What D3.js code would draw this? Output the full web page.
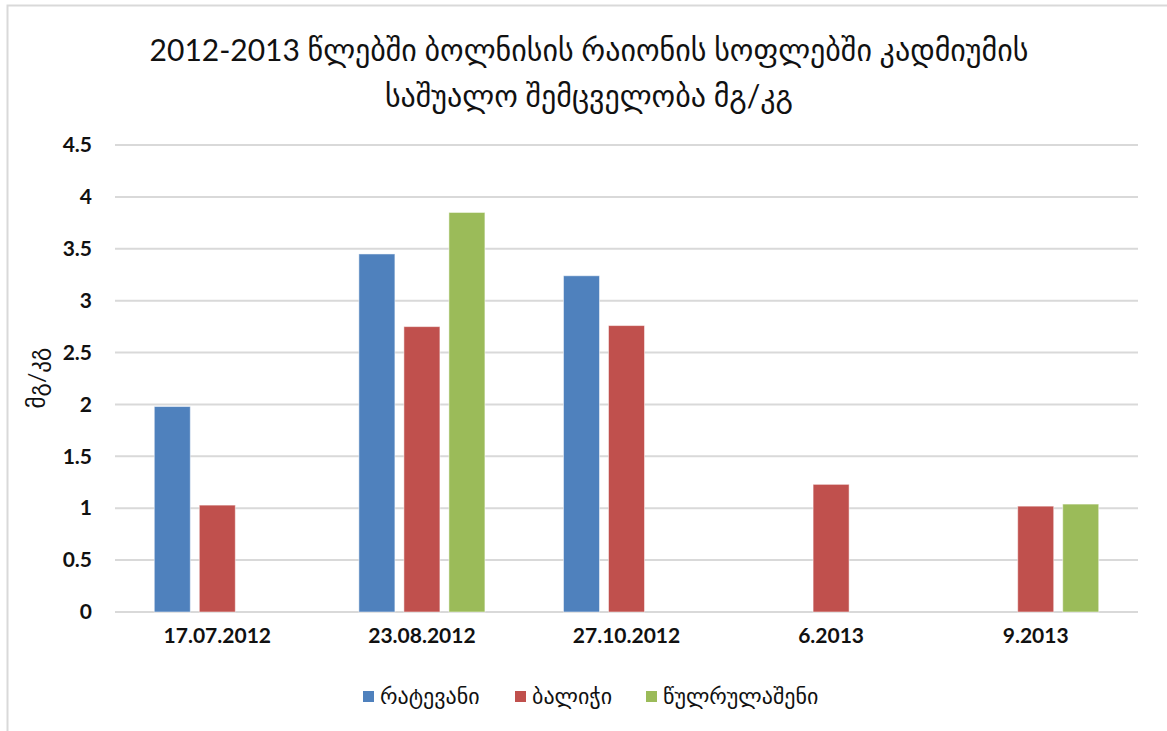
<!DOCTYPE html>
<html>
<head>
  <meta charset="utf-8">
  <title>Cadmium in Bolnisi villages</title>
  <script src="https://cdn.jsdelivr.net/npm/d3@7"></script>
  <style>
    body { margin: 0; background: #fff; font-family: Lato, "DejaVu Sans", sans-serif; }
    .grid line { stroke: #d9d9d9; stroke-width: 2; }
    .tick text { font-weight: bold; fill: #111; }
  </style>
</head>
<body>
  <div id="chart"></div>
  <script>
    const categories = ["17.07.2012", "23.08.2012", "27.10.2012", "6.2013", "9.2013"];
    const seriesNames = ["რატევანი", "ბალიჭი", "წულრულაშენი"];
    const seriesColors = ["#4f81bd", "#c0504d", "#9bbb59"];
    // null = no bar for that date
    const ratevani = [1.98, 3.45, 3.24, null, null];
    const balichi = [1.03, 2.75, 2.76, 1.23, 1.02];
    const tsulrulasheni = [null, 3.85, null, null, 1.04];
    const yTicks = [0, 0.5, 1, 1.5, 2, 2.5, 3, 3.5, 4, 4.5];
    const titleLines = ["2012-2013 წლებში ბოლნისის რაიონის სოფლებში კადმიუმის", "საშუალო შემცველობა მგ/კგ"];
    const yTitle = "მგ/კგ";

    const W = 1167, H = 731;
    const plot = {left: 115, right: 1138, top: 145, bottom: 612};

    const svg = d3.select("#chart").append("svg")
      .attr("width", W).attr("height", H);

    // outer chart border
    svg.append("rect")
      .attr("x", 7.5).attr("y", 5.5)
      .attr("width", W).attr("height", H)
      .attr("fill", "none").attr("stroke", "#d9d9d9").attr("stroke-width", 2);

    const y = d3.scaleLinear().domain([0, 4.5]).range([plot.bottom, plot.top]);
    const x0 = d3.scaleBand().domain(categories)
      .range([plot.left, plot.right]).paddingInner(0.34).paddingOuter(0.17);
    const x1 = d3.scaleBand().domain(seriesNames)
      .range([0, x0.bandwidth()]).paddingInner(0.2).paddingOuter(0.1);

    // gridlines
    svg.append("g").attr("class", "grid")
      .selectAll("line").data(yTicks).join("line")
        .attr("x1", plot.left).attr("x2", plot.right)
        .attr("y1", d => y(d)).attr("y2", d => y(d));

    // y axis labels
    const yAxis = svg.append("g")
      .attr("transform", `translate(${plot.left - 20},0)`)
      .call(d3.axisLeft(y).tickValues(yTicks).tickSize(0).tickFormat(d3.format("")));
    yAxis.select(".domain").remove();
    yAxis.selectAll("text").attr("font-size", 21).attr("font-family", "Lato, sans-serif");

    // x axis labels
    const xAxis = svg.append("g")
      .attr("transform", `translate(0,${plot.bottom + 13})`)
      .call(d3.axisBottom(x0).tickSize(0));
    xAxis.select(".domain").remove();
    xAxis.selectAll("text").attr("font-size", 21).attr("font-family", "Lato, sans-serif");

    // bars
    const seriesData = [ratevani, balichi, tsulrulasheni];
    seriesData.forEach((vals, si) => {
      svg.append("g").selectAll("rect")
        .data(vals.map((v, i) => ({cat: categories[i], v})).filter(d => d.v !== null))
        .join("rect")
          .attr("x", d => x0(d.cat) + x1(seriesNames[si]))
          .attr("y", d => y(d.v))
          .attr("width", x1.bandwidth())
          .attr("height", d => y(0) - y(d.v))
          .attr("fill", seriesColors[si])
          .attr("stroke", "#fff").attr("stroke-opacity", 0.5).attr("stroke-width", 1);
    });

    // title
    svg.append("g").selectAll("text").data(titleLines).join("text")
      .attr("x", 589).attr("y", (d, i) => 61 + i * 46)
      .attr("text-anchor", "middle")
      .attr("font-size", 30)
      .attr("fill", "#111")
      .text(d => d);

    // y axis title
    svg.append("text")
      .attr("transform", `translate(45,378) rotate(-90)`)
      .attr("text-anchor", "middle")
      .attr("font-size", 23)
      .attr("fill", "#111")
      .text(yTitle);

    // legend
    const legendX = [363, 515, 646];
    const legend = svg.append("g").selectAll("g").data(seriesNames).join("g")
      .attr("transform", (d, i) => `translate(${legendX[i]},697)`);
    legend.append("rect")
      .attr("x", 0).attr("y", -6).attr("width", 11).attr("height", 11)
      .attr("fill", (d, i) => seriesColors[i]);
    legend.append("text")
      .attr("x", 17).attr("y", 7)
      .attr("font-size", 22).attr("fill", "#111")
      .text(d => d);
  </script>
</body>
</html>
